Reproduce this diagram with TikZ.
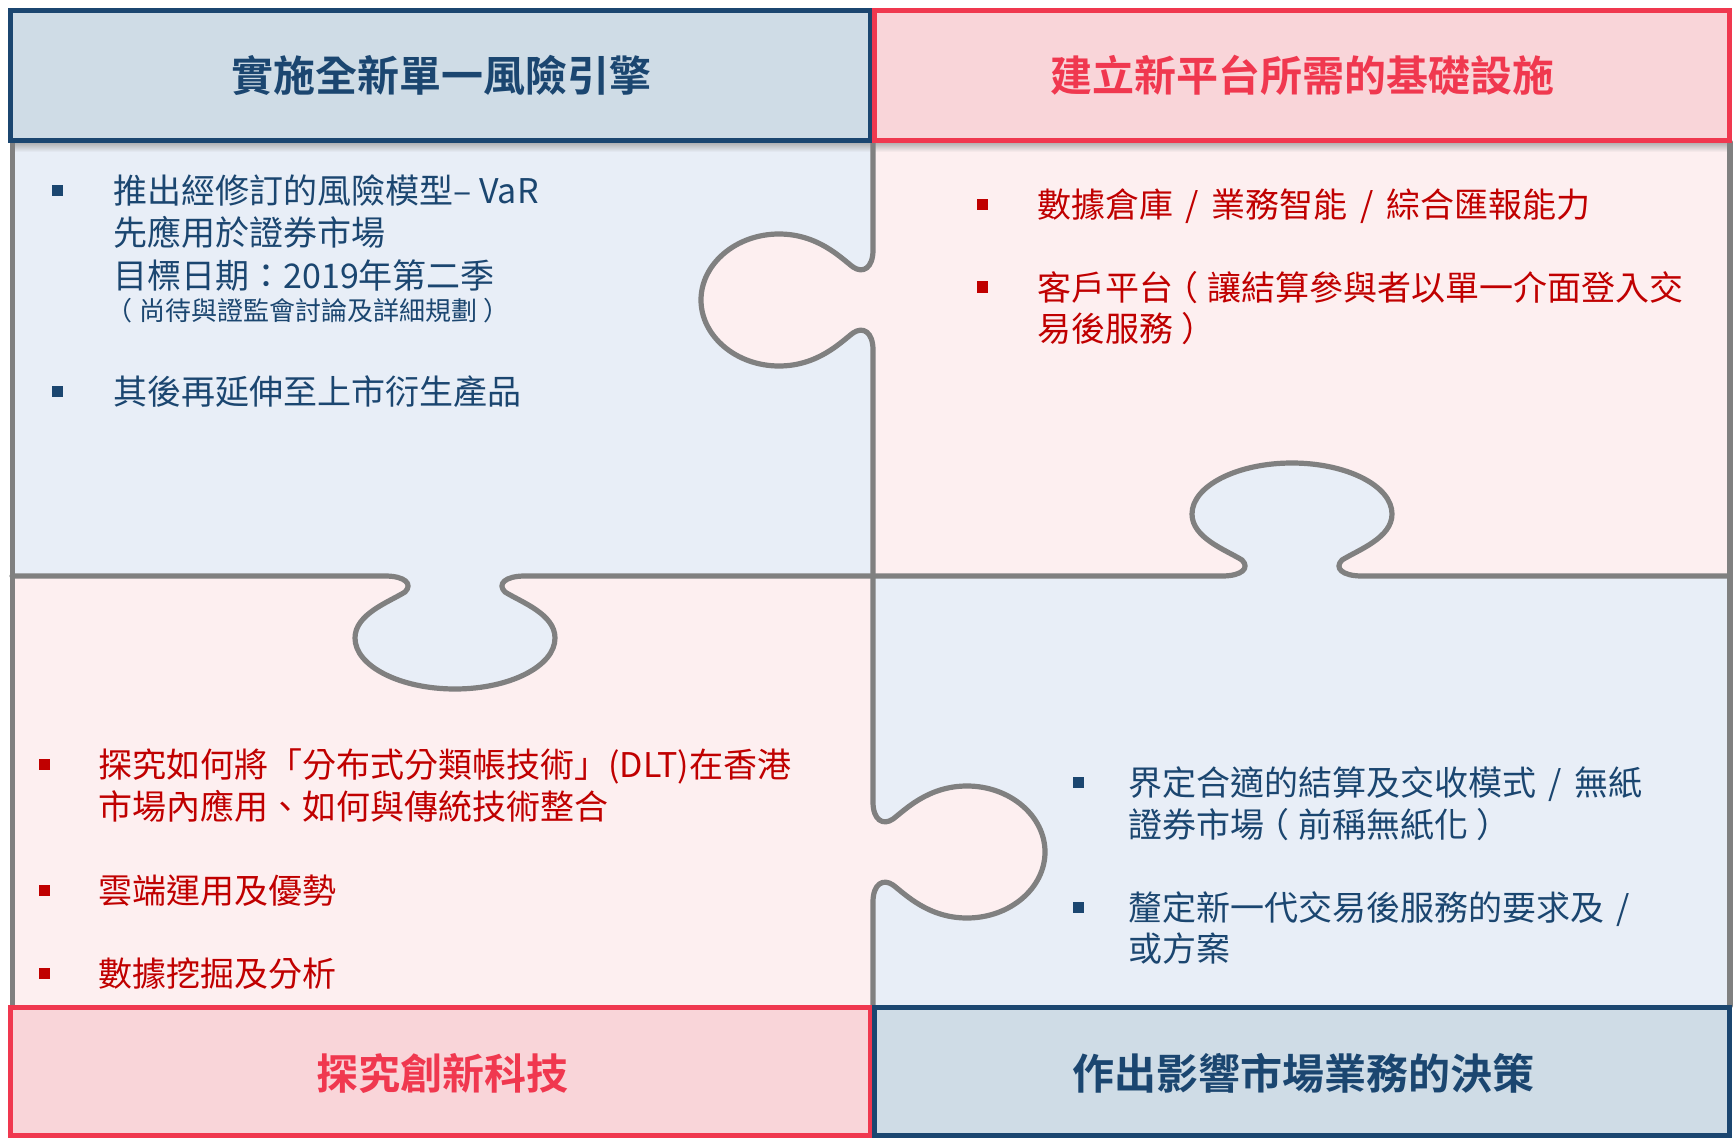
\documentclass[tikz,border=0pt]{standalone}
\usepackage{fontspec}
\newfontfamily\cjk[BoldFont={Noto Sans CJK TC Bold}]{Noto Sans CJK TC}
\newcommand\lpr{\hbox to 1em{\kern-0.25em（\hss}}
\newcommand\rpr{\hbox to 1em{\hss）\kern-0.25em}}
\newcommand\slsep{\hspace{0.37em}/\hspace{0.37em}}
\definecolor{navy}{HTML}{1B4670}
\definecolor{hred}{HTML}{F0384F}
\definecolor{bred}{HTML}{C00000}
\definecolor{lblue}{HTML}{E8EEF7}
\definecolor{lpink}{HTML}{FDEFF0}
\definecolor{hblue}{HTML}{CFDCE6}
\definecolor{hpink}{HTML}{F9D5D9}
\definecolor{edgegray}{HTML}{808080}
\tikzset{
 knobA/.style n args={3}{insert path={
  -- ({#1},{#2-50})
  .. controls ({#1},{#2-32}) and ({#1+(#3)*10},{#2-26}) .. ({#1+(#3)*20},{#2-33})
  .. controls ({#1+(#3)*32},{#2-42}) and ({#1+(#3)*55},{#2-66}) .. ({#1+(#3)*94},{#2-66})
  .. controls ({#1+(#3)*137},{#2-66}) and ({#1+(#3)*172},{#2-36}) .. ({#1+(#3)*172},{#2})
  .. controls ({#1+(#3)*172},{#2+36}) and ({#1+(#3)*137},{#2+66}) .. ({#1+(#3)*94},{#2+66})
  .. controls ({#1+(#3)*55},{#2+66}) and ({#1+(#3)*32},{#2+42}) .. ({#1+(#3)*20},{#2+33})
  .. controls ({#1+(#3)*10},{#2+26}) and ({#1},{#2+32}) .. ({#1},{#2+50})}},
 knobB/.style n args={3}{insert path={
  -- ({#2-70},{#1})
  .. controls ({#2-50},{#1}) and ({#2-42},{#1+(#3)*8}) .. ({#2-50},{#1+(#3)*16})
  .. controls ({#2-66},{#1+(#3)*26}) and ({#2-100},{#1+(#3)*38}) .. ({#2-100},{#1+(#3)*62})
  .. controls ({#2-100},{#1+(#3)*90}) and ({#2-55},{#1+(#3)*113}) .. ({#2},{#1+(#3)*113})
  .. controls ({#2+55},{#1+(#3)*113}) and ({#2+100},{#1+(#3)*90}) .. ({#2+100},{#1+(#3)*62})
  .. controls ({#2+100},{#1+(#3)*38}) and ({#2+66},{#1+(#3)*26}) .. ({#2+50},{#1+(#3)*16})
  .. controls ({#2+42},{#1+(#3)*8}) and ({#2+50},{#1}) .. ({#2+70},{#1})}},
 edgeline/.style={draw=edgegray, line width=2.6pt, line join=round, line cap=round},
 hdrblue/.style={draw=navy, fill=hblue, line width=2.5pt},
 hdrred/.style={draw=hred, fill=hpink, line width=2.5pt},
 titletext/.style={font=\cjk\bfseries\fontsize{21}{25}\selectfont, inner sep=0, anchor=center},
 bodytext/.style={font=\cjk\fontsize{17}{20}\selectfont, inner sep=0, anchor=base west},
 smalltext/.style={font=\cjk\fontsize{13}{16}\selectfont, inner sep=0, anchor=base west},
 bul/.style={shape=rectangle, minimum size=5.5pt, inner sep=0}
}
\begin{document}
\begin{tikzpicture}[x=0.5pt, y=-0.5pt]
\useasboundingbox (0,0) rectangle (1734,1139);
% quadrant fills
\fill[lblue] (11,142) rectangle (873,576);
\fill[lpink] (873,142) rectangle (1731,576);
\fill[lpink] (11,576) rectangle (873,1006);
\fill[lblue] (873,576) rectangle (1731,1006);
% knob fills
\fill[lpink] (873,250) [knobA={873}{300}{-1}] -- cycle;
\fill[lpink] (873,802) [knobA={873}{852}{1}] -- cycle;
\fill[lblue] (385,576) [knobB={576}{455}{1}] -- cycle;
\fill[lblue] (1222,576) [knobB={576}{1292}{-1}] -- cycle;
% header shadows
\shade[top color=black!35, bottom color=lblue] (11,141) rectangle (873,152);
\shade[top color=black!35, bottom color=lpink] (873,141) rectangle (1731,152);
% puzzle edges
\draw[edgeline] (873,142) [knobA={873}{300}{-1}] [knobA={873}{852}{1}] -- (873,1006);
\draw[edgeline] (12,576) [knobB={576}{455}{1}] [knobB={576}{1292}{-1}] -- (1730,576);
\draw[edgeline] (12.5,142) -- (12.5,1006);
\draw[edgeline] (1730,142) -- (1730,1006);
% headers
\draw[hdrblue] (10.5,10.5) rectangle (870,140.5);
\draw[hdrred] (874.5,10.5) rectangle (1729.5,140.5);
\draw[hdrred] (10.5,1007.5) rectangle (870,1135.5);
\draw[hdrblue] (874.5,1007.5) rectangle (1729.5,1135.5);
\node[titletext, text=navy] (t1) at (441,75) {實施全新單一風險引擎};
\node[titletext, text=hred] (t2) at (1302,75) {建立新平台所需的基礎設施};
\node[titletext, text=hred] (t3) at (442,1073) {探究創新科技};
\node[titletext, text=navy] (t4) at (1303,1073) {作出影響市場業務的決策};
% top-left text
\node[bul, fill=navy] (b11) at (57.5,191) {};
\node[bodytext, text=navy] (l11) at (113,204) {推出經修訂的風險模型– VaR};
\node[bodytext, text=navy] (l12) at (113,246) {先應用於證券市場};
\node[bodytext, text=navy] (l13) at (113,288) {目標日期：2019年第二季};
\node[smalltext, text=navy] (l14) at (113,321) {\lpr 尚待與證監會討論及詳細規劃\rpr};
\node[bul, fill=navy] (b12) at (57.5,391) {};
\node[bodytext, text=navy] (l15) at (113,404) {其後再延伸至上市衍生產品};
% top-right text
\node[bul, fill=bred] (b21) at (982,205) {};
\node[bodytext, text=bred] (l21) at (1037,218) {數據倉庫\slsep 業務智能\slsep 綜合匯報能力};
\node[bul, fill=bred] (b22) at (982,287) {};
\node[bodytext, text=bred] (l22) at (1037,300) {客戶平台\lpr 讓結算參與者以單一介面登入交};
\node[bodytext, text=bred] (l23) at (1037,341) {易後服務\rpr};
% bottom-left text
\node[bul, fill=bred] (b31) at (44,764) {};
\node[bodytext, text=bred] (l31) at (98,777) {探究如何將「分布式分類帳技術」(DLT)在香港};
\node[bodytext, text=bred] (l32) at (98,819) {市場內應用、如何與傳統技術整合};
\node[bul, fill=bred] (b32) at (44,890) {};
\node[bodytext, text=bred] (l33) at (98,903) {雲端運用及優勢};
\node[bul, fill=bred] (b33) at (44,973) {};
\node[bodytext, text=bred] (l34) at (98,986) {數據挖掘及分析};
% bottom-right text
\node[bul, fill=navy] (b41) at (1078,782) {};
\node[bodytext, text=navy] (l41) at (1128,795) {界定合適的結算及交收模式\slsep 無紙};
\node[bodytext, text=navy] (l42) at (1128,837) {證券市場\lpr 前稱無紙化\rpr};
\node[bul, fill=navy] (b42) at (1078,907) {};
\node[bodytext, text=navy] (l43) at (1128,920) {釐定新一代交易後服務的要求及\hspace{0.37em}/};
\node[bodytext, text=navy] (l44) at (1128,961) {或方案};
\end{tikzpicture}
\end{document}
